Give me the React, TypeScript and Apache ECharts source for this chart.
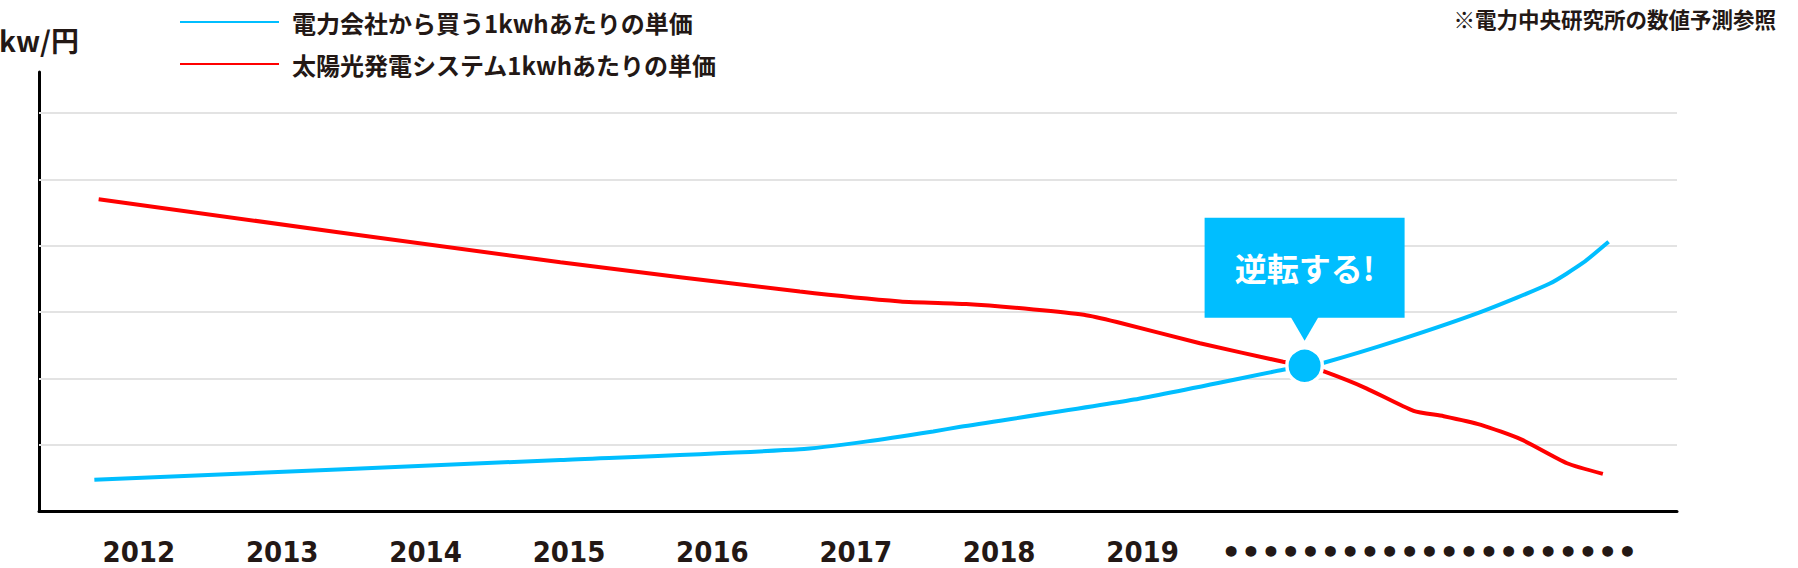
import React, { useEffect, useRef } from "react";
import * as echarts from "echarts";

// ---- data ----
const yearLabels = [2012, 2013, 2014, 2015, 2016, 2017, 2018, 2019];
const futureLabelPos = 2021;
const futureLabel = "•".repeat(21);

const seriesNames = [
  "電力会社から買う1kwhあたりの単価",
  "太陽光発電システム1kwhあたりの単価",
];
const yAxisName = "kw/円";
const noteText = "※電力中央研究所の数値予測参照";
const calloutText = "逆転する!";

const gridValues = [1, 2, 3, 4, 5, 6];

const buyYears = [2011.69, 2014.94, 2016.61, 2017.08, 2017.54, 2017.73, 2018.94, 2019.98, 2020.13, 2020.27, 2020.79, 2021.37, 2021.84, 2022.07, 2022.25];
const buyValues = [0.47, 0.77, 0.93, 1.05, 1.2, 1.27, 1.68, 2.13, 2.19, 2.24, 2.58, 3.01, 3.43, 3.74, 4.06];

const solarYears = [2011.72, 2014.94, 2016.61, 2017.31, 2017.77, 2018.24, 2018.59, 2018.82, 2019.4, 2019.98, 2020.13, 2020.27, 2020.56, 2020.89, 2021.1, 2021.36, 2021.64, 2021.96, 2022.21];
const solarValues = [4.7, 3.75, 3.31, 3.16, 3.12, 3.04, 2.96, 2.85, 2.53, 2.25, 2.19, 2.1, 1.85, 1.51, 1.43, 1.3, 1.08, 0.72, 0.56];

const crossPoint = [2020.13, 2.19];

const BLUE = "#00BEFF";
const RED = "#FF0000";
const TEXT = "#231815";
const CJK = "'Noto Sans CJK JP', 'Noto Sans', sans-serif";

export default function App() {
  const ref = useRef<HTMLDivElement>(null);

  useEffect(() => {
    if (!ref.current) return;
    const chart = echarts.init(ref.current, undefined, { renderer: "svg" });

    const buyData = buyYears.map((x, i) => [x, buyValues[i]]);
    const solarData = solarYears.map((x, i) => [x, solarValues[i]]);

    const noteGraphic = {
      id: "note",
      type: "text",
      right: 22,
      top: 8,
      style: {
        text: noteText,
        fontFamily: CJK,
        fontSize: 21.5,
        fontWeight: "bold",
        fill: TEXT,
      },
    };

    chart.setOption({
      animation: false,
      backgroundColor: "#ffffff",
      grid: {
        left: 39,
        right: 121,
        top: 72,
        bottom: 57,
        containLabel: false,
        outerBoundsMode: "none",
      },
      legend: {
        orient: "vertical",
        left: 175,
        top: 5,
        itemWidth: 99,
        itemHeight: 2,
        itemGap: 18,
        icon: "rect",
        selectedMode: false,
        data: seriesNames,
        textStyle: {
          fontFamily: CJK,
          fontSize: 24,
          fontWeight: "bold",
          color: TEXT,
          lineHeight: 24,
          padding: [0, 0, 0, 8],
        },
      },
      xAxis: {
        type: "value",
        min: 2011.304,
        max: 2022.727,
        splitLine: { show: false },
        axisTick: { show: false },
        axisLine: { show: true, lineStyle: { color: "#000", width: 3 } },
        axisLabel: {
          customValues: [...yearLabels, futureLabelPos],
          margin: 41,
          verticalAlign: "middle",
          color: TEXT,
          fontFamily: "'DejaVu Sans Condensed', 'Liberation Sans Narrow', sans-serif",
          fontWeight: "bold",
          fontSize: 29,
          formatter: (v: number) =>
            Math.round(v) === futureLabelPos ? `{d|${futureLabel}}` : String(Math.round(v)),
          rich: {
            d: {
              fontFamily: "'DejaVu Sans', sans-serif",
              fontWeight: "bold",
              fontSize: 31,
              color: TEXT,
            },
          },
        },
      },
      yAxis: {
        type: "value",
        min: 0,
        max: 6.62,
        name: yAxisName,
        nameLocation: "end",
        nameGap: 18,
        nameTextStyle: {
          fontFamily: CJK,
          fontSize: 28,
          fontWeight: "bold",
          color: TEXT,
        },
        splitLine: { show: false },
        axisTick: { show: false },
        axisLabel: { show: false },
        axisLine: { show: true, lineStyle: { color: "#000", width: 3 } },
      },
      series: [
        {
          name: seriesNames[0],
          type: "line",
          data: buyData,
          smooth: 0.2,
          showSymbol: false,
          z: 3,
          color: BLUE,
          lineStyle: { color: BLUE, width: 4 },
          markLine: {
            silent: true,
            z: 1,
            symbol: "none",
            label: { show: false },
            lineStyle: { color: "#e3e3e3", width: 2, type: "solid" },
            data: gridValues.map((v) => ({ yAxis: v })),
          },
        },
        {
          name: seriesNames[1],
          type: "line",
          data: solarData,
          smooth: 0.2,
          showSymbol: false,
          z: 3,
          color: RED,
          lineStyle: { color: RED, width: 4 },
        },
        {
          name: "cross",
          type: "scatter",
          data: [crossPoint],
          symbol: "circle",
          symbolSize: 35.5,
          z: 6,
          itemStyle: { color: BLUE, opacity: 1, borderColor: "#fff", borderWidth: 3.5 },
        },
      ],
      graphic: [noteGraphic],
    });

    const p = chart.convertToPixel({ xAxisIndex: 0, yAxisIndex: 0 }, crossPoint) as number[];
    const cx = p[0];
    const cy = p[1];
    chart.setOption({
      graphic: [
        noteGraphic,
        {
          id: "callout-box",
          type: "rect",
          z: 20,
          shape: { x: cx - 100, y: cy - 148, width: 200, height: 100 },
          style: { fill: BLUE },
        },
        {
          id: "callout-arrow",
          type: "polygon",
          z: 20,
          shape: {
            points: [
              [cx - 14, cy - 49],
              [cx + 14, cy - 49],
              [cx, cy - 25],
            ],
          },
          style: { fill: BLUE },
        },
        {
          id: "callout-text",
          type: "text",
          z: 21,
          x: cx,
          y: cy - 99,
          style: {
            text: calloutText,
            fontFamily: CJK,
            fontSize: 32,
            fontWeight: "bold",
            fill: "#fff",
            align: "center",
            verticalAlign: "middle",
          },
        },
      ],
    });

    return () => chart.dispose();
  }, []);

  return (
    <div
      ref={ref}
      style={{ position: "absolute", left: 0, top: 0, width: 1798, height: 568 }}
    />
  );
}
